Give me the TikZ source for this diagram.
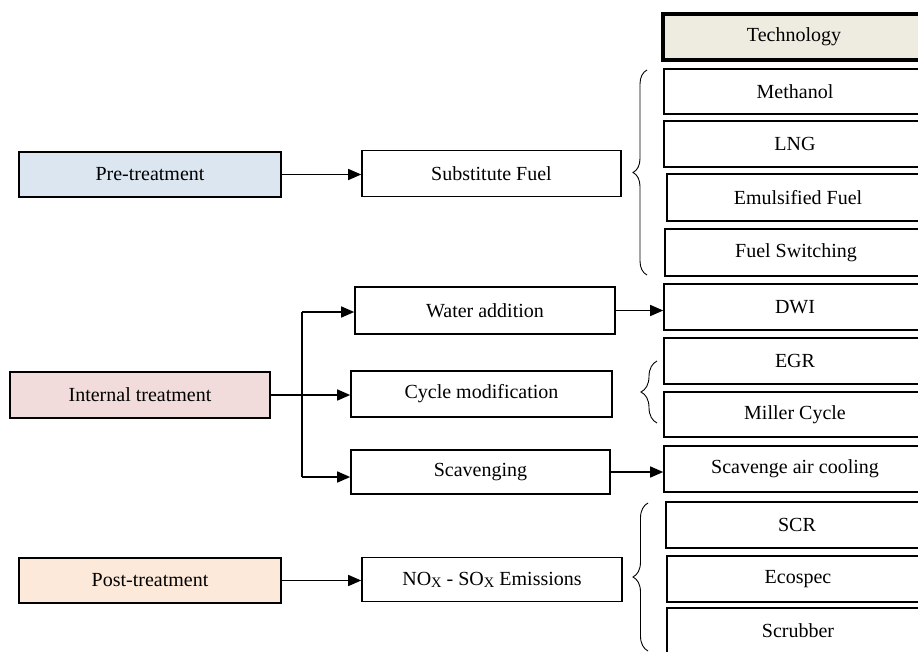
\documentclass[tikz,border=0pt]{standalone}
\usepackage{fontspec}
\setmainfont{Liberation Serif}
\usetikzlibrary{arrows.meta,decorations.pathreplacing}
\definecolor{preblue}{HTML}{DCE6F1}
\definecolor{intpink}{HTML}{F2DCDB}
\definecolor{postorange}{HTML}{FDE9D9}
\definecolor{techbeige}{HTML}{EEECE1}
\newcommand{\subx}{\raisebox{-0.2ex}{\fontsize{14.5}{14.5}\selectfont X}}
\begin{document}
\begin{tikzpicture}[x=1pt,y=-1pt,
  box/.style={draw, line width=1.6pt, inner sep=0pt, minimum height=46pt, minimum width=260pt,
    font=\fontsize{20}{22}\selectfont},
  techbox/.style={box, minimum width=262pt},
  conn/.style={line width=1.4pt, -{Triangle[length=13pt,width=11pt]}},
  plain/.style={line width=1.4pt},
  bracestyle/.style={line width=0.9pt, decorate}
]
\clip (0,0) rectangle (918,651);
\fill[white] (0,0) rectangle (918,651);

% technology column
\node[techbox, line width=3.8pt, fill=techbeige, minimum height=46pt] (tech) at (794,37) {Technology};
\node[techbox, minimum height=45pt] (meth) at (795,91.5) {Methanol};
\node[techbox] (lng) at (795,144) {LNG};
\node[techbox, minimum height=47pt] (emul) at (798,197.5) {Emulsified Fuel};
\node[techbox, minimum height=47pt] (fsw) at (796,252.5) {Fuel Switching};
\node[techbox] (dwi) at (795,307) {DWI};
\node[techbox] (egr) at (795,361) {EGR};
\node[techbox, minimum height=45pt] (miller) at (795,414.5) {Miller Cycle};
\node[techbox] (sac) at (795,469) {Scavenge air cooling};
\node[techbox] (scr) at (797,525) {SCR};
\node[techbox] (eco) at (798,579) {Ecospec};
\node[techbox] (scrub) at (798,631) {Scrubber};

% left column
\node[box, fill=preblue, minimum width=262pt, minimum height=45pt] (pre) at (150,174.5) {Pre-treatment};
\node[box, fill=intpink] (int) at (140,395) {Internal treatment};
\node[box, fill=postorange, minimum width=262pt, minimum height=45pt] (post) at (150,580.5) {Post-treatment};

% middle column
\node[box, minimum width=259pt] (sub) at (491.5,173.5) {Substitute Fuel};
\node[box, minimum height=47pt] (water) at (485,310.5) {Water addition};
\node[box, minimum width=261pt] (cycle) at (481.5,394) {Cycle modification};
\node[box, minimum width=259pt, minimum height=44pt] (scav) at (480.5,472) {Scavenging};
\node[box, minimum height=44pt] (nox) at (492,579.5) {NO\subx{} - SO\subx{} Emissions};

% connectors
\draw[conn] (pre.east) -- (pre.east -| sub.west);
\draw[conn] (post.east) -- (post.east -| nox.west);
\draw[conn] (int.east) -- (int.east -| cycle.west);
\coordinate (jt) at (302,312);
\coordinate (jb) at (302,477);
\draw[plain] (jt) -- (jb);
\draw[conn] (jt) -- (jt -| water.west);
\draw[conn] (jb) -- (jb -| scav.west);
\draw[conn] (water.east) -- (water.east -| dwi.west);
\draw[conn] (scav.east) -- (scav.east -| sac.west);

% braces
\coordinate (b1b) at (647,275);
\coordinate (b1t) at (647,70);
\draw[bracestyle, decoration={brace, amplitude=14pt}] (b1b) -- (b1t);
\coordinate (b2b) at (657,423);
\coordinate (b2t) at (657,361);
\draw[bracestyle, decoration={brace, amplitude=16pt}] (b2b) -- (b2t);
\coordinate (b3b) at (648,651);
\coordinate (b3t) at (648,503);
\draw[bracestyle, decoration={brace, amplitude=15pt}] (b3b) -- (b3t);
\end{tikzpicture}
\end{document}
